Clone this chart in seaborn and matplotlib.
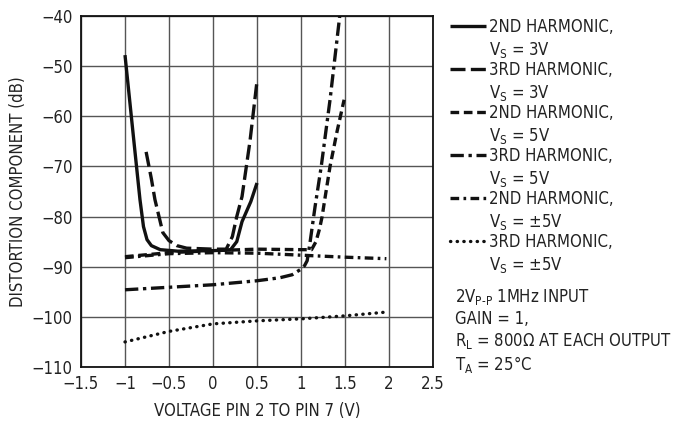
import matplotlib
matplotlib.use('Agg')
import matplotlib.pyplot as plt
import seaborn as sns
import pandas as pd
from matplotlib.lines import Line2D

# %% data
x_2nd_3v = [-1.0, -0.9, -0.83, -0.79, -0.75, -0.7, -0.6, -0.4, 0.0, 0.2, 0.27, 0.33, 0.43, 0.5]
y_2nd_3v = [-47.8, -64.8, -76.6, -82.0, -84.6, -85.8, -86.6, -86.9, -86.8, -86.6, -85.0, -81.0, -77.0, -73.3]

x_3rd_3v = [-0.76, -0.7, -0.66, -0.57, -0.5, -0.41, -0.3, 0.0, 0.15, 0.22, 0.27, 0.33, 0.42, 0.5]
y_3rd_3v = [-67.1, -72.5, -76.6, -83.2, -84.8, -85.8, -86.3, -86.5, -86.5, -84.0, -80.0, -76.0, -65.0, -53.0]

x_2nd_5v = [-1.0, -0.5, 0.0, 0.5, 1.0, 1.12, 1.17, 1.21, 1.24, 1.27, 1.33, 1.41, 1.49]
y_2nd_5v = [-88.0, -87.2, -86.8, -86.5, -86.6, -86.6, -85.0, -82.5, -80.0, -76.6, -70.0, -63.0, -56.7]

x_3rd_5v = [-1.0, -0.5, 0.0, 0.5, 0.76, 0.9, 0.99, 1.04, 1.07, 1.1, 1.16, 1.23, 1.33, 1.44]
y_3rd_5v = [-94.6, -94.1, -93.6, -92.8, -92.2, -91.6, -90.6, -89.8, -88.8, -85.5, -78.0, -70.0, -56.7, -40.0]

x_2nd_pm5v = [-1.0, -0.5, 0.0, 0.5, 1.0, 1.5, 1.97]
y_2nd_pm5v = [-88.2, -87.4, -87.2, -87.3, -87.7, -88.1, -88.4]

x_3rd_pm5v = [-1.0, -0.5, 0.0, 0.5, 1.0, 1.5, 2.0]
y_3rd_pm5v = [-105.0, -102.9, -101.4, -100.8, -100.4, -99.8, -99.0]

labels = ['2ND HARMONIC,\n$\\mathregular{V_S}$ = 3V',
          '3RD HARMONIC,\n$\\mathregular{V_S}$ = 3V',
          '2ND HARMONIC,\n$\\mathregular{V_S}$ = 5V',
          '3RD HARMONIC,\n$\\mathregular{V_S}$ = 5V',
          '2ND HARMONIC,\n$\\mathregular{V_S}$ = ±5V',
          '3RD HARMONIC,\n$\\mathregular{V_S}$ = ±5V']

x_ticks = [-1.5, -1, -0.5, 0, 0.5, 1, 1.5, 2, 2.5]
x_tick_labels = ['−1.5', '−1', '−0.5', '0', '0.5', '1', '1.5', '2', '2.5']
y_ticks = [-110, -100, -90, -80, -70, -60, -50, -40]

note = ('2V$\\mathregular{_{P\u2010P}}$ 1MHz INPUT\nGAIN = 1,\n'
        'R$\\mathregular{_L}$ = 800Ω AT EACH OUTPUT\nT$\\mathregular{_A}$ = 25°C')

# %% style
sns.set_theme(style='white')
plt.rcParams['font.family'] = ['DejaVu Sans']
plt.rcParams['font.stretch'] = 'condensed'
plt.rcParams['mathtext.fontset'] = 'custom'
plt.rcParams['mathtext.rm'] = 'DejaVu Sans:stretch=condensed'
plt.rcParams['lines.solid_capstyle'] = 'butt'

estilos = [
    dict(linestyle='-', lw=2.4),
    dict(linestyle=(0, (4.5, 1.6)), lw=2.4),
    dict(linestyle=(0, (2.6, 1.4)), lw=2.4),
    dict(linestyle=(0, (4.0, 1.4, 1.0, 1.4)), lw=2.4),
    dict(linestyle=(0, (2.6, 1.3, 0.8, 1.3)), lw=2.4),
    dict(linestyle=(0, (0.1, 1.9)), lw=2.4, dash_capstyle='round'),
]

series = [(x_2nd_3v, y_2nd_3v), (x_3rd_3v, y_3rd_3v), (x_2nd_5v, y_2nd_5v),
          (x_3rd_5v, y_3rd_5v), (x_2nd_pm5v, y_2nd_pm5v), (x_3rd_pm5v, y_3rd_pm5v)]

# %% figure
fig = plt.figure(figsize=(6.91, 4.23), dpi=100)
ax = fig.add_axes([81/691, 1-367/423, (433-81)/691, (367-16)/423])

for (xs, ys), est in zip(series, estilos):
    df = pd.DataFrame({'x': xs, 'y': ys})
    sns.lineplot(data=df, x='x', y='y', ax=ax, color='#111111', sort=False,
                 estimator=None, **est)

ax.set_xlim(-1.5, 2.5)
ax.set_ylim(-110, -40)
ax.set_xticks(x_ticks)
ax.set_xticklabels(x_tick_labels)
ax.set_yticks(y_ticks)
ax.set_yticklabels(['−' + str(abs(v)) for v in y_ticks])
ax.tick_params(length=0, labelsize=12, colors='#222222', pad=6)
ax.grid(True, color='#555555', lw=1.0)
for s in ax.spines.values():
    s.set_color('#111111')
    s.set_linewidth(1.3)
ax.set_xlabel('VOLTAGE PIN 2 TO PIN 7 (V)', fontsize=12, color='#222222', labelpad=6)
ax.set_ylabel('DISTORTION COMPONENT (dB)', fontsize=12, color='#222222', labelpad=3)

# %% legend drawn at the right, handle on the first text line
for i, (est, lab) in enumerate(zip(estilos, labels)):
    py = 26 + 43 * i
    fy = 1 - py / 423
    fig.add_artist(Line2D([450/691, 486/691], [fy, fy], color='#111111',
                          transform=fig.transFigure, **est))
    fig.text(489/691, 1 - (py + 13) / 423, lab, fontsize=12, color='#222222',
             va='center', ha='left', linespacing=1.25)

fig.text(455/691, 1 - 331/423, note, fontsize=12, color='#222222',
         va='center', ha='left', linespacing=1.2)

fig.savefig('out.png', dpi=100)
